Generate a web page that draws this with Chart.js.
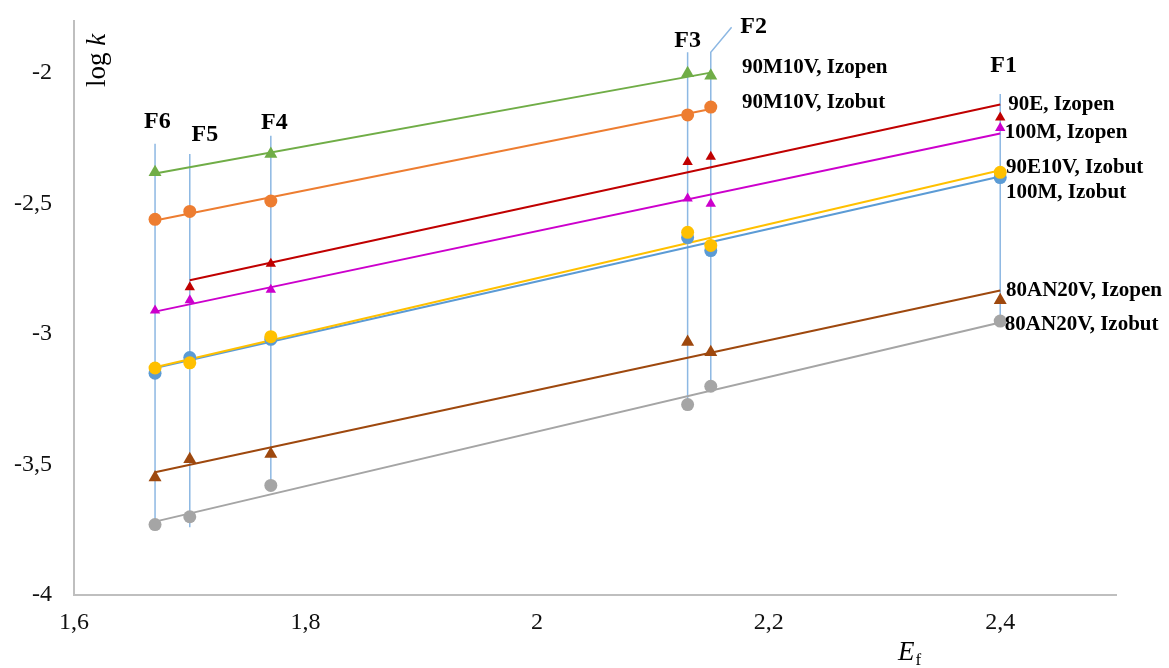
<!DOCTYPE html>
<html><head><meta charset="utf-8">
<script src="https://cdn.jsdelivr.net/npm/chart.js@4/dist/chart.umd.min.js"></script>
<style>html,body{margin:0;padding:0;background:#fff}#wrap{width:1169px;height:668px}</style>
</head><body><div id="wrap"><canvas id="c" width="1169" height="668"></canvas></div>
<script>
// ---- data ----
const fractions = ['F6', 'F5', 'F4', 'F3', 'F2', 'F1'];
const fractionEf = [1.67, 1.70, 1.77, 2.13, 2.15, 2.40];
// log k per fraction (null = not measured)
const izopen90M10V  = [-2.38, null, -2.31, -2.00, -2.01, null];
const izobut90M10V  = [-2.56, -2.53, -2.49, -2.16, -2.13, null];
const izopen90E     = [null, -2.82, -2.73, -2.34, -2.32, -2.17];
const izopen100M    = [-2.91, -2.87, -2.83, -2.48, -2.50, -2.21];
const izobut90E10V  = [-3.13, -3.11, -3.01, -2.61, -2.66, -2.38];
const izobut100M    = [-3.15, -3.09, -3.02, -2.63, -2.68, -2.40];
const izopen80AN20V = [-3.55, -3.48, -3.46, -3.03, -3.07, -2.87];
const izobut80AN20V = [-3.73, -3.70, -3.58, -3.27, -3.20, -2.95];
const seriesNames = ['90M10V, Izopen', '90M10V, Izobut', '90E, Izopen', '100M, Izopen',
                     '90E10V, Izobut', '100M, Izobut', '80AN20V, Izopen', '80AN20V, Izobut'];
const xTicks = [1.6, 1.8, 2, 2.2, 2.4];
const yTicks = [-4, -3.5, -3, -2.5, -2];
// vertical guide lines at each fraction
const guideTop    = [-2.27, -2.31, -2.24, -1.92, -1.92, -2.08];
const guideBottom = [-3.73, -3.74, -3.58, -3.27, -3.20, -2.95];
const f2LeaderEnd = {x: 2.168, y: -1.824};

// ---- styles / annotation positions ----
const styles = [
  {c:'#70ad47', s:'triangle', r:7.5},
  {c:'#ed7d31', s:'circle', r:6.5},
  {c:'#c00000', s:'triangle', r:6},
  {c:'#cc00cc', s:'triangle', r:6},
  {c:'#ffc000', s:'circle', r:6.5},
  {c:'#5b9bd5', s:'circle', r:6.5},
  {c:'#9e480e', s:'triangle', r:7.5},
  {c:'#a5a5a5', s:'circle', r:6.5}
];
const seriesLabelPos = [
  {x:2.177, y:-2.000}, {x:2.177, y:-2.134}, {x:2.407, y:-2.142}, {x:2.404, y:-2.249},
  {x:2.405, y:-2.383}, {x:2.405, y:-2.479}, {x:2.405, y:-2.854}, {x:2.404, y:-2.985}
];
const fLabelPos = [
  {x:1.672, y:-2.211}, {x:1.713, y:-2.261}, {x:1.773, y:-2.215},
  {x:2.130, y:-1.900}, {x:2.187, y:-1.847}, {x:2.403, y:-1.996}
];

const allSeries = [izopen90M10V, izobut90M10V, izopen90E, izopen100M,
                   izobut90E10V, izobut100M, izopen80AN20V, izobut80AN20V];

function pts(vals) {
  return fractionEf.map((x, i) => ({x, y: vals[i]})).filter(p => p.y !== null);
}
function trend(vals) {
  const p = pts(vals), n = p.length;
  const mx = p.reduce((a, q) => a + q.x, 0) / n, my = p.reduce((a, q) => a + q.y, 0) / n;
  let sxx = 0, sxy = 0;
  p.forEach(q => { sxx += (q.x - mx) ** 2; sxy += (q.x - mx) * (q.y - my); });
  const b = sxy / sxx;
  const x0 = Math.min(...p.map(q => q.x)), x1 = Math.max(...p.map(q => q.x));
  return [{x:x0, y:my + b * (x0 - mx)}, {x:x1, y:my + b * (x1 - mx)}];
}

const datasets = [];
// markers (first = top-most); yellow above blue
const markerOrder = [4, 5, 0, 1, 2, 3, 6, 7];
markerOrder.forEach(i => {
  datasets.push({
    label: seriesNames[i], data: pts(allSeries[i]), showLine: false,
    pointStyle: styles[i].s, pointRadius: styles[i].r, pointHoverRadius: styles[i].r,
    backgroundColor: styles[i].c, borderColor: styles[i].c, pointBorderWidth: 0
  });
});
markerOrder.forEach(i => {
  datasets.push({
    label: seriesNames[i] + ' trend', data: trend(allSeries[i]), showLine: true,
    pointRadius: 0, borderColor: styles[i].c, borderWidth: 2, fill: false
  });
});
fractionEf.forEach((x, i) => {
  const d = [{x, y: guideTop[i]}, {x, y: guideBottom[i]}];
  if (fractions[i] === 'F2') d.unshift(f2LeaderEnd);
  datasets.push({
    label: fractions[i] + ' guide', data: d, showLine: true, pointRadius: 0,
    borderColor: '#8db8e3', borderWidth: 1.5, fill: false
  });
});

const SERIF = '"Liberation Serif", "Times New Roman", serif';
const fmt = v => String(v).replace('.', ',');

const annot = {
  id: 'annot',
  afterDatasetsDraw(chart) {
    const {ctx, scales: {x, y}} = chart;
    ctx.save();
    ctx.fillStyle = '#000';
    ctx.textBaseline = 'alphabetic';
    ctx.font = 'bold 24px ' + SERIF;
    ctx.textAlign = 'center';
    fractions.forEach((f, i) => ctx.fillText(f, x.getPixelForValue(fLabelPos[i].x), y.getPixelForValue(fLabelPos[i].y)));
    ctx.font = 'bold 21px ' + SERIF;
    ctx.textAlign = 'left';
    seriesNames.forEach((s, i) => ctx.fillText(s, x.getPixelForValue(seriesLabelPos[i].x), y.getPixelForValue(seriesLabelPos[i].y)));
    // y title: "log k"
    ctx.save();
    ctx.translate(105, 87);
    ctx.rotate(-Math.PI / 2);
    ctx.font = '27px ' + SERIF;
    ctx.fillText('log ', 0, 0);
    const w = ctx.measureText('log ').width;
    ctx.font = 'italic 27px ' + SERIF;
    ctx.fillText('k', w, 0);
    ctx.restore();
    // x title: "E_f"
    ctx.font = 'italic 27px ' + SERIF;
    ctx.fillText('E', 898, 660);
    const we = ctx.measureText('E').width;
    ctx.font = '17px ' + SERIF;
    ctx.fillText('f', 898 + we + 1, 665);
    ctx.restore();
  }
};

new Chart(document.getElementById('c'), {
  type: 'scatter',
  data: {datasets},
  options: {
    responsive: false, animation: false, events: [],
    layout: {padding: {top: 21, right: 53, left: 0, bottom: 0}},
    plugins: {legend: {display: false}, tooltip: {enabled: false}},
    scales: {
      x: {
        type: 'linear', min: 1.6, max: 2.5,
        afterBuildTicks: s => { s.ticks = xTicks.map(v => ({value: v})); },
        afterFit: s => { s.height = 73; s.paddingLeft = 0; s.paddingRight = 0; },
        grid: {display: false, drawTicks: false},
        border: {display: true, color: '#bfbfbf', width: 2},
        ticks: {font: {family: SERIF, size: 24}, color: '#111', padding: 13,
                maxRotation: 0, autoSkip: false, callback: v => fmt(v)}
      },
      y: {
        type: 'linear', min: -4, max: -1.8,
        afterBuildTicks: s => { s.ticks = yTicks.map(v => ({value: v})); },
        afterFit: s => { s.width = 74; s.paddingTop = 0; s.paddingBottom = 0; },
        grid: {display: false, drawTicks: false},
        border: {display: true, color: '#bfbfbf', width: 2},
        ticks: {font: {family: SERIF, size: 24}, color: '#111', padding: 22,
                autoSkip: false, callback: v => fmt(v)}
      }
    }
  },
  plugins: [annot]
});
</script>
</body></html>
